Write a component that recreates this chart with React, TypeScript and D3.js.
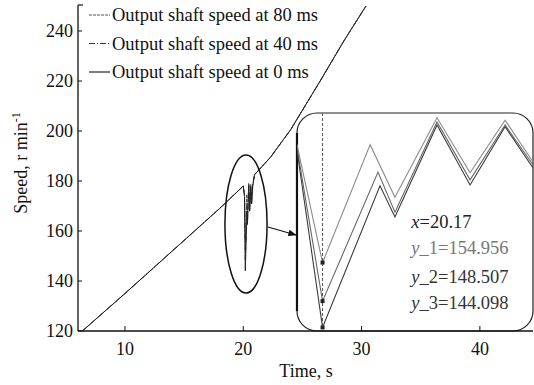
import React from "react";
import * as d3 from "d3";

// ---- data ----
const xTicks = [10, 20, 30, 40];
const yTicks = [120, 140, 160, 180, 200, 220, 240];

const preTime = [6.4, 10, 14, 18, 20.0];
const preSpeed = [120, 135, 152, 169, 178];

const dipTime80 = [20.105, 20.17, 20.291, 20.354, 20.461, 20.545, 20.634, 20.705, 20.8, 20.95];
const dipSpeed80 = [174.7, 154.956, 174.7, 165.9, 179.2, 170.0, 178.8, 171.8, 178.5, 182.5];
const dipTime40 = [20.105, 20.17, 20.311, 20.354, 20.461, 20.545, 20.634, 20.705, 20.8, 20.95];
const dipSpeed40 = [174.2, 148.507, 170.1, 163.4, 178.5, 168.8, 178.0, 171.3, 178.2, 182.5];
const dipTime0 = [20.105, 20.17, 20.316, 20.354, 20.461, 20.545, 20.634, 20.705, 20.8, 20.95];
const dipSpeed0 = [173.8, 144.098, 167.8, 162.6, 178.0, 167.95, 177.7, 170.8, 178.0, 182.5];

const postTime = [22.3, 24, 26.5, 28.5, 30.37];
const postSpeed = [189.5, 200.5, 220, 236, 250];

const seriesNames = ["Output shaft speed at 80 ms", "Output shaft speed at 40 ms", "Output shaft speed at 0 ms"];
const seriesColors = ["#555", "#333", "#222"];
const seriesInsetColors = ["#8a8a8a", "#666", "#3a3a3a"];
const seriesDash = ["3,1", "6,2,1,2", ""];

const cursorTime = 20.17;
const cursorLabels = ["x=20.17", "y_1=154.956", "y_2=148.507", "y_3=144.098"];

const insetTimeDomain = [20.105, 20.705];
const insetSpeedDomain = [143.5, 180];
const insetBox = { t0: 24.54, t1: 44.49, v0: 120, v1: 207.2 };

const ellipseSpec = { t: 20.23, v: 162.8, rt: 1.78, rv: 27.6 };
const arrowSpec = { t0: 22.09, v0: 161.6, t1: 24.45, v1: 158.4 };

type P = [number, number];
function buildSeries(dt: number[], dv: number[]): P[] {
  const pts: P[] = [];
  preTime.forEach((t, i) => pts.push([t, preSpeed[i]]));
  dt.forEach((t, i) => pts.push([t, dv[i]]));
  postTime.forEach((t, i) => pts.push([t, postSpeed[i]]));
  return pts;
}
const allSeries: P[][] = [
  buildSeries(dipTime80, dipSpeed80),
  buildSeries(dipTime40, dipSpeed40),
  buildSeries(dipTime0, dipSpeed0),
];
const dipSeries: number[][] = [dipSpeed80, dipSpeed40, dipSpeed0];

const FONT = "'Liberation Serif', 'Times New Roman', serif";

export default function App() {
  const W = 534, H = 385;
  const x = d3.scaleLinear().domain([6.03, 44.49]).range([78, 533]);
  const y = d3.scaleLinear().domain([120, 250.4]).range([331, 5]);

  const line = d3.line<P>().x((d) => x(d[0])).y((d) => y(d[1]));

  const bx0 = x(insetBox.t0), bx1 = x(insetBox.t1);
  const by0 = y(insetBox.v1), by1 = y(insetBox.v0);
  const xi = d3.scaleLinear().domain(insetTimeDomain).range([bx0, bx1]);
  const yi = d3.scaleLinear().domain(insetSpeedDomain).range([by1, by0]);
  const lineI = d3.line<P>().x((d) => xi(d[0])).y((d) => yi(d[1]));
  const r = 20;

  const ex = x(ellipseSpec.t), ey = y(ellipseSpec.v);
  const erx = x(ellipseSpec.t + ellipseSpec.rt) - ex;
  const ery = y(ellipseSpec.v - ellipseSpec.rv) - ey;

  const cx = xi(cursorTime);
  const labelX = x(34.2);
  const labelYs = [161.2, 150.8, 139.3, 128.9];
  const labelColors = ["#222", "#777", "#333", "#333"];

  return (
    <svg width={W} height={H} style={{ position: "absolute", left: 0, top: 0, background: "#fff" }} fontFamily={FONT}>
      <defs>
        <clipPath id="insetClip">
          <rect x={bx0} y={by0} width={bx1 - bx0} height={by1 - by0} rx={r} ry={r} />
        </clipPath>
        <marker id="arr" viewBox="0 0 10 10" refX="9" refY="5" markerWidth="7" markerHeight="7" orient="auto">
          <path d="M0,1 L10,5 L0,9 z" fill="#111" />
        </marker>
      </defs>

      {/* main series */}
      {allSeries.map((s, i) => (
        <path key={i} d={line(s) || ""} fill="none" stroke={seriesColors[i]} strokeWidth={1} strokeDasharray={seriesDash[i] || undefined} />
      ))}

      {/* ellipse */}
      <ellipse cx={ex} cy={ey} rx={erx} ry={ery} fill="none" stroke="#111" strokeWidth={1.5} />

      {/* arrow */}
      <line x1={x(arrowSpec.t0)} y1={y(arrowSpec.v0)} x2={x(arrowSpec.t1)} y2={y(arrowSpec.v1)} stroke="#111" strokeWidth={1.2} markerEnd="url(#arr)" />

      {/* inset */}
      <rect x={bx0} y={by0} width={bx1 - bx0} height={by1 - by0} rx={r} ry={r} fill="#fff" stroke="#222" strokeWidth={1.2} />
      <line x1={bx0} y1={by0 + r} x2={bx0} y2={by1 - r} stroke="#111" strokeWidth={2.2} />
      <g clipPath="url(#insetClip)">
        {allSeries.map((s, i) => (
          <path key={i} d={lineI(s) || ""} fill="none" stroke={seriesInsetColors[i]} strokeWidth={1.1} />
        ))}
        <line x1={cx} y1={by0} x2={cx} y2={yi(dipSeries[2][1])} stroke="#555" strokeWidth={1} strokeDasharray="3,2" />
        {dipSeries.map((s, i) => (
          <rect key={i} x={cx - 2} y={yi(s[1]) - 2} width={4} height={4} fill="#222" />
        ))}
      </g>
      {cursorLabels.map((t, i) => {
        const m = t.match(/^([xy])(.*)$/);
        return (
          <text key={i} x={labelX} y={y(labelYs[i])} fontSize={18.5} fill={labelColors[i]}>
            <tspan fontStyle="italic">{m ? m[1] : ""}</tspan>
            {m ? m[2] : t}
          </text>
        );
      })}

      {/* axes */}
      <line x1={78} y1={y(120)} x2={533} y2={y(120)} stroke="#111" strokeWidth={1.3} />
      <line x1={78} y1={y(120)} x2={78} y2={5} stroke="#111" strokeWidth={1.3} />
      <line x1={78} y1={5} x2={83} y2={5} stroke="#111" strokeWidth={1.2} />
      {yTicks.map((v) => (
        <g key={v}>
          <line x1={78} x2={82} y1={y(v)} y2={y(v)} stroke="#111" />
          <text x={73} y={y(v) + 6} textAnchor="end" fontSize={18} fill="#111">{v}</text>
        </g>
      ))}
      {xTicks.map((t) => (
        <g key={t}>
          <line x1={x(t)} x2={x(t)} y1={y(120)} y2={y(120) - 5} stroke="#111" />
          <text x={x(t)} y={355} textAnchor="middle" fontSize={18} fill="#111">{t}</text>
        </g>
      ))}
      <text x={306} y={377} textAnchor="middle" fontSize={18} fill="#111">Time, s</text>
      <text transform={`translate(27,163) rotate(-90)`} textAnchor="middle" fontSize={18} fill="#111">
        Speed, r min<tspan fontSize={12} dy={-7}>-1</tspan>
      </text>

      {/* legend */}
      {seriesNames.map((n, i) => (
        <g key={n}>
          <line x1={89} x2={110} y1={15 + i * 28.5} y2={15 + i * 28.5} stroke={seriesColors[i]} strokeWidth={1.2} strokeDasharray={seriesDash[i] || undefined} />
          <text x={112} y={21 + i * 28.5} fontSize={18.5} fill="#111">{n}</text>
        </g>
      ))}
    </svg>
  );
}
